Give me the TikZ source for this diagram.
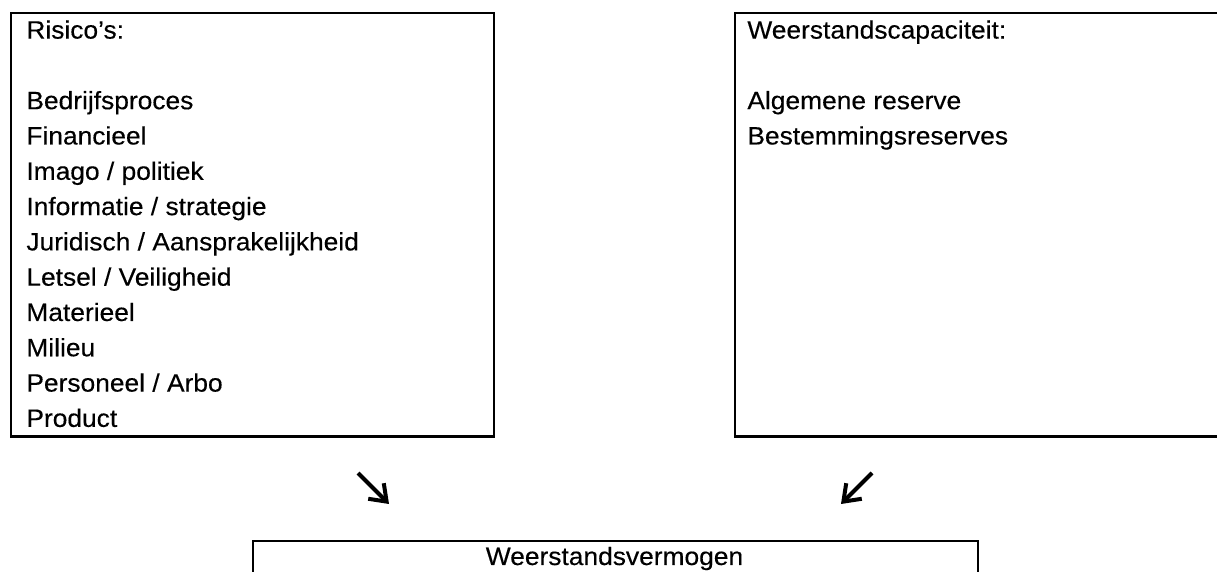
\documentclass[tikz,border=0pt]{standalone}
\usepackage{fontspec}
\setmainfont{Liberation Sans}[FakeStretch=1.05,FakeBold=0.3]
\usetikzlibrary{arrows.meta}
\begin{document}
\begin{tikzpicture}[x=0.5pt,y=-0.5pt,
  box/.style={draw=black,line width=1.2pt,rectangle,inner sep=0pt,anchor=north west},
  txt/.style={inner sep=0pt,anchor=north west,align=left,font=\fontsize{12.55pt}{17.65pt}\selectfont},
  ptr/.style={line width=2pt,-{Straight Barb[length=7.5pt,width=11pt,line width=2pt]}}]
\useasboundingbox (0,0) rectangle (1217,572);
\clip (0,0) rectangle (1217,572);
\node[box,minimum width=241.5pt,minimum height=211.75pt] (risk) at (10,12) {};
\node[box,minimum width=245pt,minimum height=211.75pt] (cap) at (734,12) {};
\node[box,minimum width=362.5pt,minimum height=40pt] (verm) at (252,540) {};
\node[txt] (risktxt) at (26,20) {Risico’s:\\[17.65pt]Bedrijfsproces\\Financieel\\Imago / politiek\\Informatie / strategie\\Juridisch / Aansprakelijkheid\\Letsel / Veiligheid\\Materieel\\Milieu\\Personeel / Arbo\\Product};
\node[txt] (captxt) at (747,20) {Weerstandscapaciteit:\\[17.65pt]Algemene reserve\\Bestemmingsreserves};
\node[inner sep=0pt,anchor=base,font=\fontsize{12.55pt}{17.65pt}\selectfont] (vermtxt) at (614.5,565) {Weerstandsvermogen};
\coordinate (a1s) at (358,473);
\coordinate (a1e) at (389,504);
\coordinate (a2s) at (872,473);
\coordinate (a2e) at (841,504);
\draw[ptr] (a1s) -- (a1e);
\draw[ptr] (a2s) -- (a2e);
\end{tikzpicture}
\end{document}
